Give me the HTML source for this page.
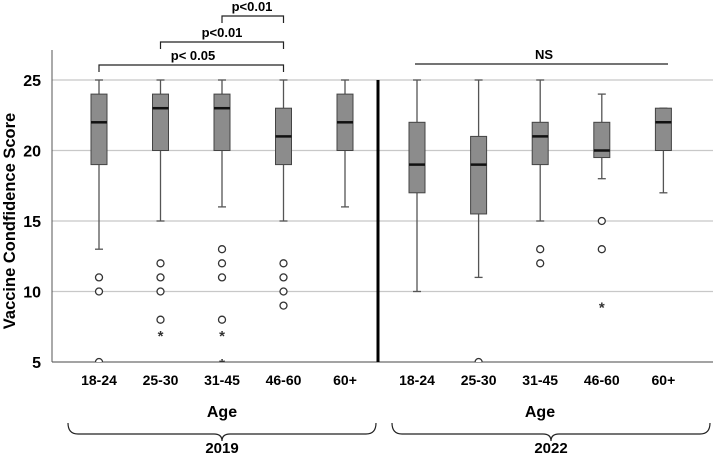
<!DOCTYPE html>
<html><head><meta charset="utf-8"><style>
body{margin:0;background:#fff}
svg{display:block;font-family:"Liberation Sans",Arial,sans-serif;font-weight:bold}
svg text{font-weight:bold}
</style></head><body>
<svg id="chart" width="713" height="454"></svg>
<script>
const groups2019 = ["18-24","25-30","31-45","46-60","60+"];
const groups2022 = ["18-24","25-30","31-45","46-60","60+"];
const q1_2019 = [19,20,20,19,20];
const med_2019 = [22,23,23,21,22];
const q3_2019 = [24,24,24,23,24];
const lo_2019 = [13,15,16,15,16];
const hi_2019 = [25,25,25,25,25];
const out_2019 = [[11,10,5],[12,11,10,8],[13,12,11,8],[12,11,10,9],[]];
const ext_2019 = [[],[7],[7,5],[],[]];
const q1_2022 = [17,15.5,19,19.5,20];
const med_2022 = [19,19,21,20,22];
const q3_2022 = [22,21,22,22,23];
const lo_2022 = [10,11,15,18,17];
const hi_2022 = [25,25,25,24,23];
const out_2022 = [[],[5],[13,12],[15,13],[]];
const ext_2022 = [[],[],[],[9],[]];
const yTicks = [5,10,15,20,25];

const svg=document.getElementById('chart');
const NS='http://www.w3.org/2000/svg';
function el(t,a,txt,parent){const e=document.createElementNS(NS,t);for(const k in a)e.setAttribute(k,a[k]);if(txt!==undefined&&txt!==null)e.textContent=txt;(parent||svg).appendChild(e);return e;}
const y=v=>362-(v-5)*(282/20);
const xL=i=>99+i*61.5;
const xR=i=>417+i*61.6;

const defs=el('defs',{});
const cp=el('clipPath',{id:'plotclip'},null,defs);
el('rect',{x:40,y:0,width:680,height:362},null,cp);

yTicks.forEach(t=>{
 const g=el('line',{x1:52,x2:713,y1:y(t),y2:y(t),stroke:'#c8c8c8','stroke-width':1.2});
 
 
 const l=el('text',{x:41,y:y(t)+6,'text-anchor':'end','font-size':16},t);
 
 
});
let a=el('line',{x1:52,x2:52,y1:50,y2:362,stroke:'#555','stroke-width':1});

a=el('line',{x1:52,x2:713,y1:362,y2:362,stroke:'#555','stroke-width':1});

a=el('line',{x1:378,x2:378,y1:80,y2:362,stroke:'#000','stroke-width':3});

a=el('text',{x:0,y:0,'text-anchor':'middle','font-size':16.5,transform:'translate(15,221) rotate(-90)'},'Vaccine Condfidence Score');


const marks=el('g',{'clip-path':'url(#plotclip)'});



function drawBoxes(cats,q1,med,q3,lo,hi,out,ext,xf,yr){
 cats.forEach((c,i)=>{
  const x=xf(i),w=8;
  let e=el('line',{x1:x,x2:x,y1:y(hi[i]),y2:y(q3[i]),stroke:'#555','stroke-width':1.3});
  
  e=el('line',{x1:x,x2:x,y1:y(q1[i]),y2:y(lo[i]),stroke:'#555','stroke-width':1.3});
  
  [hi[i],lo[i]].forEach(v=>{const cap=el('line',{x1:x-4,x2:x+4,y1:y(v),y2:y(v),stroke:'#555','stroke-width':1.3});
   });
  e=el('rect',{x:x-w,y:y(q3[i]),width:2*w,height:y(q1[i])-y(q3[i]),fill:'#8c8c8c',stroke:'#444','stroke-width':1});
  
  e=el('line',{x1:x-w,x2:x+w,y1:y(med[i]),y2:y(med[i]),stroke:'#111','stroke-width':2.5});
  
  out[i].forEach(v=>{const o=el('circle',{cx:x,cy:y(v),r:3.5,fill:'#fff',stroke:'#333','stroke-width':1.3},null,marks);
   });
  ext[i].forEach(v=>{const s=el('text',{x:x,y:y(v)+7,'text-anchor':'middle','font-size':15,fill:'#333'},'*',marks);
   });
  const t=el('text',{x:x,y:385,'text-anchor':'middle','font-size':14},c);
  
 });
}
drawBoxes(groups2019,q1_2019,med_2019,q3_2019,lo_2019,hi_2019,out_2019,ext_2019,xL,'2019');
drawBoxes(groups2022,q1_2022,med_2022,q3_2022,lo_2022,hi_2022,out_2022,ext_2022,xR,'2022');

function bracket(x1,x2,yy,label,tx,name){
 const p=el('path',{d:`M${x1},${yy+7}V${yy}H${x2}V${yy+7}`,fill:'none',stroke:'#222','stroke-width':1.2});
 
 const t=el('text',{x:tx,y:yy-5,'text-anchor':'middle','font-size':13},label);
 
}
bracket(xL(0),xL(3),65,'p< 0.05',193,'sig-18-24-vs-46-60');
bracket(xL(1),xL(3),42,'p<0.01',222,'sig-25-30-vs-46-60');
bracket(xL(2),xL(3),16,'p<0.01',252,'sig-31-45-vs-46-60');
a=el('line',{x1:415,x2:668,y1:64,y2:64,stroke:'#222','stroke-width':1.2});

a=el('text',{x:544,y:59,'text-anchor':'middle','font-size':13},'NS');


[[222,'2019',68,376],[540,'2022',392,710]].forEach(([cx,yr,l,r])=>{
 let t=el('text',{x:cx,y:417,'text-anchor':'middle','font-size':16},'Age');
 
 const m=(l+r)/2;
 const b=el('path',{d:`M${l},423 Q${l},434 ${l+10},434 H${m-8} Q${m},434 ${m},441 Q${m},434 ${m+8},434 H${r-10} Q${r},434 ${r},423`,fill:'none',stroke:'#222','stroke-width':1.2});
 
 t=el('text',{x:m,y:453,'text-anchor':'middle','font-size':15},yr);
 
});
</script>
</body></html>
